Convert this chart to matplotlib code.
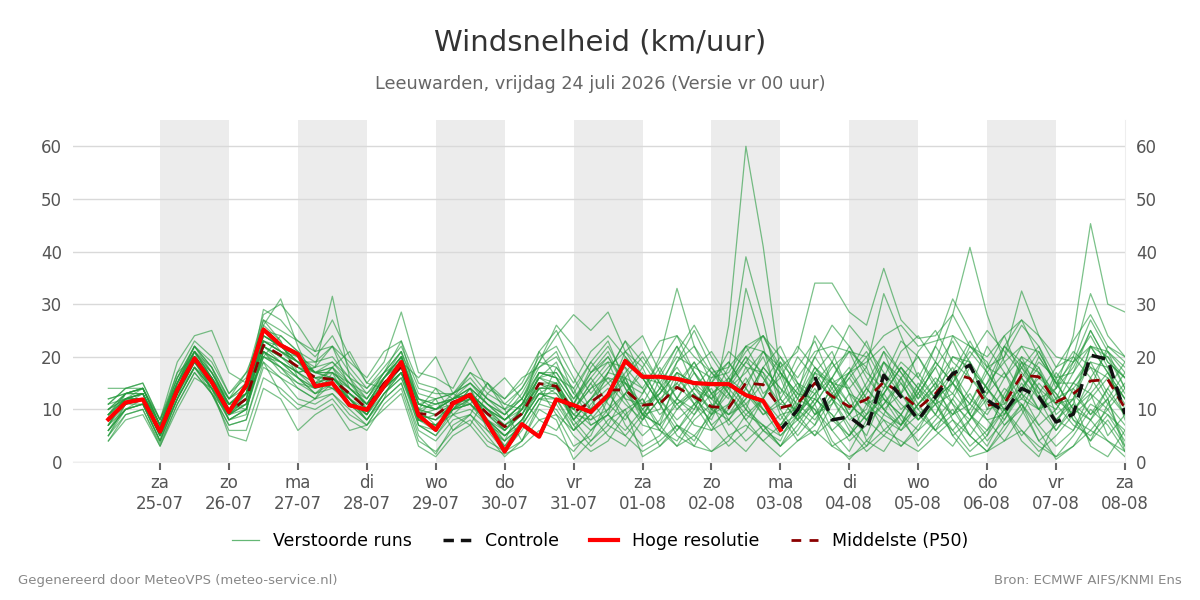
import matplotlib
matplotlib.use("Agg")
import matplotlib.pyplot as plt
from matplotlib.lines import Line2D
import numpy as np

# tijdas: dagen t.o.v. za 25-07 00 uur, 6-uurlijks
tijd = np.arange(-0.75, 14.01, 0.25)

dag_labels = ["za\n25-07", "zo\n26-07", "ma\n27-07", "di\n28-07", "wo\n29-07",
              "do\n30-07", "vr\n31-07", "za\n01-08", "zo\n02-08", "ma\n03-08",
              "di\n04-08", "wo\n05-08", "do\n06-08", "vr\n07-08", "za\n08-08"]

hoge_resolutie = [8.1, 11.3, 11.9,
                  5.8, 13.7, 19.7, 15.2,
                  9.5, 14.6, 25.2, 22.2,
                  20.5, 14.4, 15.0, 10.8,
                  9.9, 14.4, 19.0, 8.9,
                  6.1, 11.1, 12.8, 7.4,
                  2.0, 7.2, 4.8, 11.9,
                  10.8, 9.5, 12.7, 19.2,
                  16.2, 16.2, 15.8, 15.0,
                  14.8, 14.8, 12.7, 11.6,
                  6.1]

controle = hoge_resolutie[:39] + [6.1, 9.9, 16.2, 8.0,
                                  8.6, 6.1, 16.5, 12.4,
                                  8.0, 12.4, 16.8, 18.4,
                                  11.8, 9.5, 14.0, 12.4,
                                  7.6, 9.1, 20.3, 19.5,
                                  9.1]

middelste = [8.1, 11.3, 11.9,
             5.8, 13.7, 19.7, 15.2,
             9.5, 12.0, 22.2, 20.3,
             18.1, 16.1, 15.7, 13.0,
             10.2, 15.0, 18.1, 9.2,
             8.9, 11.4, 12.4, 9.2,
             6.7, 9.2, 14.9, 14.4,
             9.5, 11.4, 13.7, 13.7,
             10.8, 11.1, 14.2, 12.4,
             10.5, 10.3, 15.0, 14.7,
             10.3, 11.1, 15.0, 12.5,
             10.5, 11.9, 15.2, 13.0,
             10.2, 13.0, 16.8, 15.9,
             10.8, 11.1, 16.5, 16.2,
             11.4, 13.0, 15.4, 15.7,
             10.2]

runs = [
    [6, 10, 11, 4, 14, 21, 16, 8, 10, 24, 22, 19, 15, 18, 12, 9, 16, 21, 7, 5, 10, 14, 8, 4, 7, 17, 16, 8, 12, 15, 18, 9, 7, 16, 12, 9, 26, 60, 41, 17, 13, 10, 6, 9, 14, 19, 13, 9, 6, 12, 18, 14, 9, 13, 20, 15, 10, 8, 14, 9],
    [9, 12, 13, 6, 15, 20, 14, 10, 13, 26, 23, 17, 18, 22, 14, 12, 17, 19, 10, 11, 12, 13, 10, 8, 10, 13, 12, 10, 14, 16, 12, 11, 13, 17, 15, 12, 18, 39, 27, 12, 8, 11, 16, 21, 18, 10, 7, 14, 22, 17, 9, 6, 12, 19, 14, 8, 11, 22, 17, 12],
    [5, 11, 12, 5, 12, 18, 15, 9, 11, 20, 19, 17, 14, 16, 12, 8, 13, 17, 8, 7, 10, 12, 7, 5, 8, 13, 15, 7, 10, 12, 15, 13, 20, 33, 22, 15, 12, 33, 22, 10, 5, 9, 14, 18, 12, 6, 9, 15, 11, 5, 8, 13, 17, 10, 4, 7, 14, 9, 12, 3],
    [10, 13, 14, 7, 16, 22, 17, 11, 14, 25, 24, 21, 17, 19, 15, 11, 16, 20, 11, 10, 13, 15, 12, 9, 12, 18, 20, 15, 21, 24, 20, 16, 15, 20, 18, 16, 17, 22, 21, 18, 21, 34, 34, 28.5, 26, 36.8, 27, 23.5, 24, 28, 22, 18, 20, 26, 22, 16, 17, 22, 21, 14],
    [7, 12, 13, 6, 13, 19, 15, 10, 12, 22, 20, 18, 16, 14, 13, 10, 14, 18, 9, 12, 6, 9, 15, 10, 4, 11, 18, 14, 7, 9, 20, 16, 11, 6, 10, 17, 13, 8, 12, 19, 10, 7, 15, 9, 5, 13, 18, 12, 19, 28, 40.8, 28, 19, 22, 17, 12, 14, 18, 16, 11],
    [8, 11, 12, 6, 14, 20, 16, 10, 12, 23, 21, 19, 17, 16, 14, 11, 15, 19, 10, 14, 9, 7, 13, 16, 12, 8, 6, 11, 17, 21, 14, 8, 12, 15, 19, 13, 7, 10, 18, 22, 15, 9, 11, 16, 20, 12, 7, 11, 14, 18, 9, 5, 13, 18, 12, 14, 24, 45.3, 30, 28.5],
    [4, 9, 10, 3.5, 11, 17, 13, 6, 6, 16, 14, 11, 10, 12, 8, 6, 11, 14, 4, 2, 6, 8, 4, 2, 4, 8, 9, 3, 5, 12, 16, 9, 3, 6, 11, 14, 8, 4, 7, 3, 9, 13, 6, 2, 8, 5, 3, 7, 11, 6, 2, 5, 10, 4, 1, 8, 12, 3, 1, 6],
    [9, 13, 14, 7, 15, 21, 18, 12, 15, 27, 25, 23, 20, 24, 18, 14, 18, 22, 14, 13, 13, 17, 13, 11, 14, 20, 22, 16, 10, 13, 21, 24, 17, 12, 9, 15, 21, 18, 12, 8, 13, 24, 19, 13, 9, 16, 23, 20, 14, 9, 11, 18, 24, 16, 10, 12, 19, 27, 21, 17],
    [6, 10, 11, 5, 13, 19, 14, 8, 10, 21, 19, 16, 13, 15, 11, 9, 15, 18, 8, 6, 11, 11, 8, 3, 8, 14, 14, 8, 4, 7, 13, 18, 11, 5, 3, 9, 14, 10, 6, 4, 11, 17, 12, 7, 3, 9, 16, 11, 6, 3, 8, 14, 10, 5, 9, 16, 8, 4, 11, 7],
    [11, 12, 13, 7, 15, 20, 15, 11, 13, 23, 22, 20, 17, 17, 15, 12, 16, 20, 12, 11, 12, 14, 11, 8, 11, 16, 17, 12, 16, 11, 8, 13, 18, 12, 10, 16, 19, 14, 9, 11, 15, 13, 18, 21, 14, 10, 13, 17, 12, 15, 22, 19, 11, 14, 18, 12, 9, 16, 21, 18],
    [14, 14, 15, 8, 17, 23, 20, 13, 16, 28, 30, 26, 21, 27, 20, 15, 19, 28.5, 17, 16, 14, 20, 14, 12, 15, 21, 25, 18, 13, 17, 23, 19, 14, 21, 26, 20, 15, 19, 24, 18, 12, 20, 26, 22, 17, 14, 21, 24, 19, 15, 20, 25, 21, 17, 13, 18, 23, 28, 22, 19],
    [8, 12, 12, 6, 14, 19, 15, 9, 12, 22, 20, 17, 18, 31.5, 16, 10, 14, 17, 9, 8, 10, 13, 9, 7, 9, 14, 15, 10, 15, 19, 12, 7, 6, 12, 17, 11, 9, 14, 21, 16, 8, 5, 11, 17, 12, 9, 7, 13, 18, 11, 5, 10, 16, 20, 13, 8, 6, 13, 17, 12],
    [7, 11, 11, 4, 12, 18, 14, 8, 9, 26, 31, 22, 15, 14, 11, 8, 13, 16, 7, 5, 9, 10, 7, 4, 7, 12, 12, 6, 9, 5, 3, 8, 12, 7, 4, 10, 15, 11, 6, 3, 7, 12, 9, 5, 11, 8, 3, 6, 12, 15, 9, 4, 8, 13, 7, 3, 6, 11, 9, 4],
    [10, 13, 14, 8, 15, 22, 19, 13, 17, 25, 21, 19, 19, 20, 16, 14, 17, 21, 13, 12, 13, 16, 12, 10, 12, 19, 18, 13, 19, 23, 15, 11, 17, 22, 14, 10, 16, 21, 24, 17, 12, 18, 15, 9, 13, 21, 17, 12, 16, 13, 9, 15, 22, 18, 14, 11, 17, 25, 19, 16],
    [12, 13, 14, 7, 16, 21, 16, 11, 13, 24, 22, 19, 16, 17, 14, 11, 16, 19, 12, 10, 12, 14, 11, 9, 13, 19, 24, 28, 25, 28.5, 21, 18, 23, 24, 20, 17, 18, 22, 24, 20, 16, 21, 22, 21, 20, 24, 26, 22, 23, 24, 22, 20, 24, 27, 24, 20, 19, 22, 20, 16],
    [5, 10, 11, 4, 12, 18, 13, 7, 8, 19, 16, 12, 11, 13, 9, 7, 12, 15, 5, 1.5, 7, 9, 5, 1, 4, 10, 8, 0.5, 4, 8, 10, 1, 3, 7, 5, 2, 4, 9, 7, 3, 6, 11, 4, 0.5, 4, 8, 6, 9, 12, 5, 1, 2, 7, 11, 6, 0.5, 3, 8, 12, 2],
    [8, 12, 13, 5, 13, 20, 16, 9, 11, 21, 18, 14, 12, 15, 12, 9, 13, 16, 8, 7, 10, 11, 8, 6, 9, 15, 13, 9, 12, 16, 15, 10, 6, 4, 9, 13, 16, 10, 7, 5, 9, 15, 19, 14, 8, 11, 16, 20, 15, 11, 8, 12, 7, 10, 17, 13, 8, 6, 10, 14],
    [9, 11, 12, 5, 14, 20, 15, 10, 11, 21, 19, 17, 15, 16, 13, 10, 15, 18, 9, 10, 11, 12, 10, 7, 9, 15, 15, 9, 6, 10, 16, 20, 15, 11, 13, 10, 8, 12, 18, 14, 11, 8, 13, 17, 23, 15, 11, 8, 13, 17, 12, 9, 14, 11, 7, 10, 15, 13, 5, 9],
    [6, 11, 12, 6, 13, 19, 16, 10, 13, 22, 20, 18, 17, 16, 13, 11, 16, 19, 10, 9, 11, 13, 10, 8, 11, 17, 16, 11, 18, 22, 16, 14, 9, 12, 18, 21, 16, 13, 9, 12, 18, 23, 15, 11, 8, 14, 19, 16, 12, 9, 14, 22, 17, 12, 10, 14, 20, 16, 11, 15],
    [10, 12, 13, 6, 14, 21, 17, 11, 13, 23, 21, 18, 16, 16, 13, 10, 14, 18, 10, 9, 11, 13, 10, 7, 10, 15, 14, 10, 7, 9, 13, 17, 12, 8, 11, 15, 19, 14, 10, 7, 11, 16, 12, 9, 14, 10, 6, 11, 15, 20, 18, 14, 20, 32.5, 24, 18, 20, 32, 24, 20],
    [7, 12, 12, 5, 13, 18, 14, 9, 11, 20, 18, 15, 14, 15, 12, 9, 14, 17, 8, 7, 10, 12, 8, 5, 8, 13, 12, 7, 3, 6, 10, 12, 7, 3, 5, 9, 13, 8, 4, 7, 12, 10, 3, 5, 9, 13, 8, 4, 8, 12, 7, 3, 9, 15, 10, 6, 11, 8, 4, 2],
    [9, 12, 13, 7, 14, 20, 17, 12, 14, 23, 21, 20, 17, 18, 15, 13, 16, 20, 11, 12, 13, 15, 12, 10, 14, 19, 26, 22, 17, 19, 18, 14, 19, 24, 17, 12, 15, 20, 13, 16, 22, 18, 13, 10, 15, 21, 13, 8, 11, 17, 23, 17, 12, 16, 21, 15, 10, 14, 22, 20],
    [6, 10, 12, 5, 13, 19, 15, 8, 10, 20, 18, 16, 13, 16, 12, 8, 13, 17, 7, 6, 10, 11, 7, 3, 7, 12, 11, 6, 11, 14, 7, 3, 5, 10, 13, 7, 3, 6, 12, 17, 9, 5, 8, 13, 4, 2, 7, 11, 15, 8, 3, 6, 10, 6, 2, 5, 9, 4, 8, 3],
    [8, 11, 12, 5, 13, 20, 16, 10, 12, 22, 19, 17, 15, 16, 13, 10, 15, 18, 9, 8, 11, 13, 9, 6, 9, 14, 14, 10, 15, 9, 6, 10, 14, 18, 13, 7, 10, 15, 20, 12, 8, 17, 15, 14, 18, 32, 24, 16, 22, 31, 25, 18, 16, 22, 21, 15, 15, 20, 20, 14],
    [11, 14, 15, 8, 16, 22, 18, 12, 15, 24, 22, 20, 18, 19, 16, 12, 17, 21, 12, 11, 12, 15, 11, 9, 12, 17, 17, 12, 17, 20, 14, 9, 13, 17, 11, 8, 15, 20, 17, 13, 20, 16, 12, 17, 21, 15, 10, 13, 18, 23, 16, 12, 8, 14, 19, 16, 21, 18, 12, 17],
    [5, 9, 10, 3, 11, 17, 13, 7, 8, 18, 16, 14, 12, 13, 10, 7, 12, 15, 6, 4, 8, 9, 6, 2, 6, 11, 10, 5, 2, 4, 9, 12, 6, 3, 8, 11, 5, 2, 6, 9, 4, 7, 12, 6, 2, 5, 9, 3, 7, 10, 5, 2, 6, 11, 4, 1, 5, 10, 7, 2],
    [9, 13, 13, 7, 15, 21, 16, 11, 14, 24, 22, 19, 17, 18, 14, 11, 16, 20, 11, 10, 12, 14, 11, 8, 11, 17, 16, 11, 8, 12, 17, 21, 15, 10, 14, 18, 13, 9, 12, 19, 15, 11, 16, 22, 16, 12, 9, 14, 19, 15, 11, 17, 22, 19, 12, 10, 15, 19, 13, 9],
    [7, 10, 11, 4, 12, 18, 14, 9, 10, 21, 19, 16, 14, 15, 12, 9, 14, 17, 8, 7, 10, 11, 8, 5, 8, 13, 13, 8, 12, 7, 5, 9, 14, 11, 7, 6, 11, 16, 10, 5, 8, 12, 9, 4, 7, 11, 15, 10, 6, 9, 13, 8, 4, 9, 15, 11, 7, 5, 9, 6],
    [8, 12, 12, 6, 14, 20, 15, 9, 12, 22, 20, 18, 16, 16, 13, 10, 15, 18, 9, 8, 11, 12, 9, 6, 10, 16, 14, 8, 12, 17, 16, 9, 10, 17, 15, 9, 11, 18, 17, 9, 10, 18, 14, 8, 10, 19, 16, 8, 12, 20, 19, 10, 11, 20, 18, 9, 12, 19, 18, 8],
    [10, 12, 14, 7, 15, 21, 17, 11, 13, 23, 21, 19, 17, 17, 14, 11, 15, 19, 11, 10, 12, 13, 10, 8, 11, 16, 15, 10, 14, 18, 21, 16, 11, 14, 19, 13, 9, 11, 15, 20, 14, 9, 12, 16, 11, 13, 18, 14, 9, 6, 10, 15, 19, 13, 10, 17, 13, 9, 14, 19],
    [11, 14, 14, 8, 19, 24, 25, 17, 15, 27, 23, 16, 14, 18, 21, 15, 14, 19, 16, 20, 13, 11, 15, 12, 16, 18, 21, 13, 10, 17, 23, 16, 11, 19, 25, 18, 14, 17, 21, 17, 13, 12, 19, 26, 22, 17, 13, 21, 25, 19, 16, 13, 22, 27, 20, 15, 19, 24, 18, 13],
    [4, 8, 9, 3, 10, 16, 14, 5, 4, 14, 12, 6, 9, 11, 6, 7, 10, 13, 3, 1, 5, 7, 3, 1.5, 3, 6, 5, 2, 6, 9, 5, 2, 4, 7, 3, 2, 5, 7, 4, 1, 4, 6, 3, 1, 3, 6, 4, 2, 5, 8, 5, 2, 4, 6, 3, 1, 3, 6, 4, 1],
    [12, 13, 14, 7, 17, 20, 16, 12, 17, 20, 24, 21, 19, 22, 19, 16, 21, 23, 15, 14, 12, 17, 15, 11, 10, 21, 16, 14, 19, 15, 11, 8, 16, 22, 17, 13, 15, 22, 16, 10, 14, 20, 15, 17, 19, 22, 17, 13, 9, 16, 21, 17, 12, 18, 22, 14, 18, 25, 19, 16],
    [7, 13, 13, 5, 12, 21, 13, 9, 13, 19, 13, 10, 12, 17, 11, 8, 12, 20, 8, 9, 10, 14, 6, 4, 11, 14, 9, 6, 9, 13, 9, 5, 8, 15, 11, 6, 8, 13, 10, 7, 9, 14, 8, 5, 9, 12, 9, 6, 9, 15, 11, 8, 9, 16, 12, 6, 10, 13, 10, 5],
    [9, 12, 12, 6, 15, 22, 18, 10, 13, 29, 27, 23, 21, 22, 17, 13, 17, 23, 11, 10, 12, 13, 10, 6, 10, 16, 19, 11, 16, 20, 15, 10, 13, 19, 22, 17, 14, 19, 16, 11, 10, 17, 21, 13, 11, 19, 15, 10, 14, 24, 19, 11, 10, 19, 17, 11, 12, 22, 17, 10],
    [8, 11, 13, 6, 13, 19, 14, 11, 10, 21, 17, 15, 13, 14, 12, 10, 14, 17, 10, 7, 9, 12, 8, 5, 7, 12, 14, 9, 8, 10, 13, 9, 7, 11, 14, 12, 9, 12, 18, 14, 9, 13, 16, 11, 8, 13, 18, 14, 11, 13, 19, 14, 10, 12, 16, 13, 9, 12, 16, 12],
]

fig = plt.figure(figsize=(12, 6), dpi=100)
ax = fig.add_axes([0.061, 0.23, 0.8765, 0.57])

# grijze banden om de dag
for d in range(0, 14, 2):
    ax.axvspan(d, d + 1, color="#ececec", lw=0, zorder=0)

for r in runs:
    ax.plot(tijd[:len(r)], r, color="#23993b", lw=0.9, alpha=0.6, zorder=2)

ax.plot(tijd, middelste, color="#8b0000", lw=2, ls=(0, (4, 3)), zorder=3)
ax.plot(tijd[:len(controle)], controle, color="#111111", lw=2.5, ls=(0, (4, 2.5)), zorder=4)
ax.plot(tijd[:len(hoge_resolutie)], hoge_resolutie, color="#ff0000", lw=3, zorder=5)

ax.set_xlim(-1.26, 14)
ax.set_ylim(0, 65)
ax.set_yticks(range(0, 61, 10))
ax.set_xticks(range(15))
ax.set_xticklabels(dag_labels)
ax.grid(axis="y", color="#d9d9d9", lw=1)
ax.set_axisbelow(True)
for s in ["left", "top"]:
    ax.spines[s].set_visible(False)
ax.spines["bottom"].set_color("#eeeeee")
ax.spines["right"].set_color("#eeeeee")
ax.tick_params(axis="x", length=6, width=1.5, color="#666666", labelsize=12, labelcolor="#555555", pad=3)
ax.tick_params(axis="y", length=0, labelsize=12, labelcolor="#555555", labelright=True, pad=8)

fig.text(0.5, 0.93, "Windsnelheid (km/uur)", ha="center", va="center", fontsize=21, color="#333333")
fig.text(0.5, 0.86, "Leeuwarden, vrijdag 24 juli 2026 (Versie vr 00 uur)", ha="center", va="center", fontsize=12.7, color="#666666")

handles = [Line2D([], [], color="#23993b", lw=0.9, alpha=0.7),
           Line2D([], [], color="#111111", lw=2.5, ls=(0, (3, 2))),
           Line2D([], [], color="#ff0000", lw=3),
           Line2D([], [], color="#8b0000", lw=2, ls=(0, (3.5, 3)))]
fig.legend(handles, ["Verstoorde runs", "Controle", "Hoge resolutie", "Middelste (P50)"],
           loc="center", bbox_to_anchor=(0.5, 0.098), ncol=4, frameon=False,
           fontsize=12.5, handlelength=1.6, handletextpad=0.8, columnspacing=1.8)

fig.text(0.015, 0.033, "Gegenereerd door MeteoVPS (meteo-service.nl)", ha="left", va="center", fontsize=9.5, color="#888888")
fig.text(0.985, 0.033, "Bron: ECMWF AIFS/KNMI Ens", ha="right", va="center", fontsize=9.5, color="#888888")

fig.savefig("out.png", dpi=100)
